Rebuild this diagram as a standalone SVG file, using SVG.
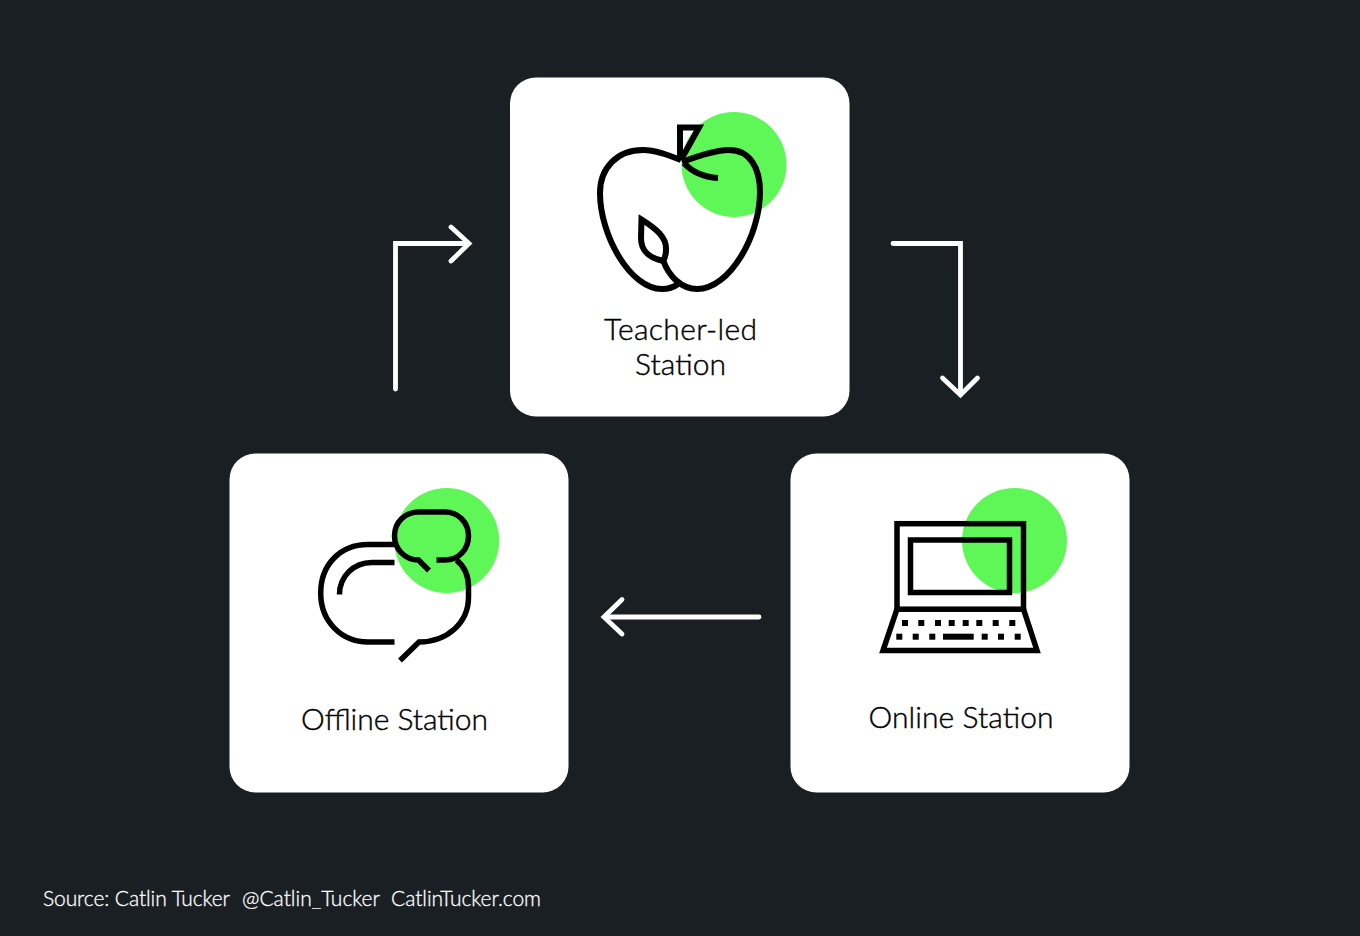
<svg xmlns="http://www.w3.org/2000/svg" width="1360" height="936" viewBox="0 0 1360 936">
<style>
.card{fill:#fff}
.dot{fill:#5ff757}
.ic{fill:none;stroke:#000;stroke-width:5.500;stroke-linejoin:miter;stroke-linecap:butt}
#teacher-led .ic{stroke-width:6}
.key{fill:#000}
.lb{font-family:"Lato","Liberation Sans",sans-serif;font-weight:300;font-size:30px;fill:#000;stroke:#000;stroke-width:.4;text-anchor:middle}
.src{font-family:"Lato","Liberation Sans",sans-serif;font-weight:300;font-size:21px;fill:#fff;stroke:#fff;stroke-width:.3}
.ar{fill:none;stroke:#fff;stroke-width:4.800;stroke-linecap:round;stroke-linejoin:miter}
</style>
<rect width="1360" height="936" fill="#1a1f24"/>
<g id="connectors">
<path class="ar" d="M395.500 389V243.500H468"/><path class="ar" d="M451 227L469 243.500L451 261"/>
<path class="ar" d="M893 243.500H960.500V394"/><path class="ar" d="M942.500 378L960.500 395L977.500 378"/>
<path class="ar" d="M759 617H605"/><path class="ar" d="M622 599.500L604 617L622 634"/>
</g>
<g id="teacher-led">
<rect class="card" x="510" y="77.500" width="339.500" height="339" rx="26"/>
<circle class="dot" cx="734" cy="164.500" r="52.500"/>
<path class="ic" d="M680 160V127.500H699L682 158"/>
<path class="ic" d="M681 160C668 155 655 150 643 150C617 150 600 168 600 193C600 235 630 289 662 289C668 289 674 287 678 284"/>
<path class="ic" d="M682 162C698 156 715 150 729 150C750 150 760 168 760 192C760 235 730 289 697 289C682 289 669 277 663 260"/>
<path class="ic" d="M684 163C692 172 704 177 718 178"/>
<path class="ic" d="M641.500 219.500C655 228 667 237 666 250C666 254 665 258 663 261C650 258 641 252 641 238Z"/>
<text class="lb" x="680.500" y="340" textLength="153">Teacher-led</text>
<text class="lb" x="680.500" y="375" textLength="91">Station</text>
</g>
<g id="online">
<rect class="card" x="790.500" y="453.500" width="339" height="339" rx="26"/>
<circle class="dot" cx="1014.500" cy="540.500" r="52.500"/>
<rect class="ic" x="897" y="523.700" width="126.500" height="85.500"/>
<rect class="ic" x="910.500" y="540" width="99" height="52.500"/>
<path class="ic" d="M897 609.200L883 650.500H1037L1023.500 609.200"/>
<g class="key">
<rect x="902" y="620" width="6" height="6"/><rect x="918.300" y="620" width="6" height="6"/><rect x="935" y="620" width="6" height="6"/><rect x="948.700" y="620" width="6" height="6"/><rect x="962.700" y="620" width="6" height="6"/><rect x="976.300" y="620" width="6" height="6"/><rect x="992.700" y="620" width="6" height="6"/><rect x="1009.300" y="620" width="6" height="6"/>
<rect x="896.300" y="633.700" width="6" height="6"/><rect x="912.700" y="633.700" width="6" height="6"/><rect x="929.300" y="633.700" width="6" height="6"/><rect x="943" y="633.700" width="30.700" height="6"/><rect x="981.700" y="633.700" width="6" height="6"/><rect x="998" y="633.700" width="6" height="6"/><rect x="1014.700" y="633.700" width="6" height="6"/>
</g>
<text class="lb" x="961" y="728" textLength="185">Online Station</text>
</g>
<g id="offline">
<rect class="card" x="229.500" y="453.500" width="339" height="339" rx="26"/>
<circle class="dot" cx="446.700" cy="540.500" r="52.500"/>
<path class="ic" d="M394.500 544.500H368C340 544.500 320.700 565 320.700 593C320.700 622 342 642 368 642H394.500"/>
<path class="ic" d="M394.500 562.500H372C353 562.500 339.500 577 339.500 594.500"/>
<path class="ic" d="M436.500 560H445C459 560 468.500 549 468.500 536C468.500 522 458 512 445 512H419C405 512 394.500 522 394.500 536C394.500 549 405 560 418.500 560L429 570.500"/>
<path class="ic" d="M456.500 560C464 566 468.500 576 468.500 587V597C468.500 623 447 642 419 642L400 660.500"/>
<text class="lb" x="394.500" y="730" textLength="187">Offline Station</text>
</g>
<g id="source">
<text class="src" x="43" y="906" textLength="187">Source: Catlin Tucker</text>
<text class="src" x="242" y="906" textLength="138">@Catlin_Tucker</text>
<text class="src" x="391" y="906" textLength="150">CatlinTucker.com</text>
</g>
</svg>
